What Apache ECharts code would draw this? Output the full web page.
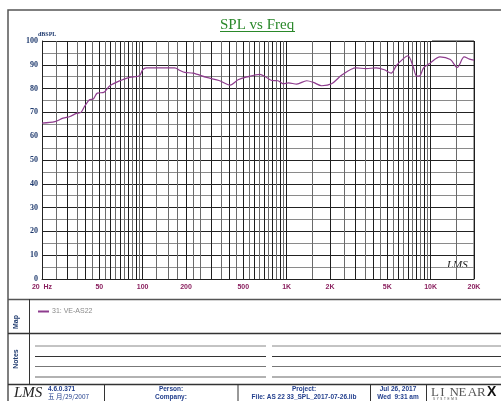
<!DOCTYPE html>
<html>
<head>
<meta charset="utf-8">
<script src="https://cdn.jsdelivr.net/npm/echarts@6/dist/echarts.min.js"></script>
<style>
html,body{margin:0;padding:0;background:#fff;}
#c{width:501px;height:401px;}
</style>
</head>
<body>
<div id="c"></div>
<script>
// ---- data ----
const freqs = [20, 24.6, 28, 31.3, 34.7, 37.3, 39.5, 42.7, 45.4, 48.4, 53.7, 59.2, 69.4, 81, 95, 100, 106, 125, 167, 182, 196, 224, 278, 343, 405, 460, 530, 652, 708, 789, 870, 948, 1030, 1175, 1378, 1535, 1750, 2050, 2430, 3030, 3560, 4180, 4770, 5320, 5770, 6410, 6960, 7550, 8000, 8430, 8930, 9960, 11600, 13700, 15300, 17100, 18600, 20000];
const spl = [65.5, 66.1, 67.6, 68.3, 69.6, 70, 72.5, 75.3, 75.6, 78.1, 78.4, 81.2, 83.3, 84.7, 85.4, 87.9, 88.7, 88.7, 88.7, 87.6, 86.8, 86.5, 84.7, 83.3, 81.5, 83.7, 84.9, 86, 85.1, 83.4, 83.3, 82, 82.4, 81.9, 83.3, 82.6, 81.2, 82, 85.8, 88.7, 88.4, 88.7, 87.9, 86.5, 89.6, 92.4, 93.8, 89.3, 85.2, 85.4, 88.7, 90.8, 93.3, 92.2, 88.9, 93.3, 92.4, 92];
const seriesName = '31: VE-AS22';
const xTickLabels = [20, 50, 100, 200, 500, 1000, 2000, 5000, 10000, 20000];
const xLabelText = {20: '20  Hz', 50: '50', 100: '100', 200: '200', 500: '500', 1000: '1K', 2000: '2K', 5000: '5K', 10000: '10K', 20000: '20K'};
const xGridLines = [20,25,30,35,40,45,50,55,60,65,70,75,80,85,90,95,
  100,125,150,175,200,225,250,300,350,400,450,500,550,600,650,700,750,800,850,900,950,
  1000,1500,2000,2500,3000,3500,4000,4500,5000,5500,6000,6500,7000,7500,8000,8500,9000,9500,
  10000,15000,20000];
const yMin = 0, yMax = 100, yStep = 5;

const gridColors = xGridLines.map(function (f) {
  const m = f / Math.pow(10, Math.floor(Math.log10(f) + 1e-9));
  return Math.abs(m - Math.round(m)) < 1e-6 ? '#1e1e1e' : '#6a6a6a';
});

const chart = echarts.init(document.getElementById('c'), null, {renderer: 'canvas'});

const LBL = '#1f3a6e';
const XLBL = '#8a1f5e';
const FT = '#24408e';

const linearLetters = ['L', 'I', 'N', 'E', 'A', 'R'];
const linearGraphics = linearLetters.map(function (ch, i) {
  return {type: 'text', x: 431 + i * 9.2, y: 386, style: {text: ch, font: '13px "Liberation Serif"', fill: '#555'}};
});

const option = {
  backgroundColor: '#fff',
  animation: false,
  title: {
    text: 'SPL vs Freq',
    left: 220, top: 18, padding: 0,
    textStyle: {fontFamily: 'Liberation Serif', fontSize: 15, fontWeight: 'normal', color: '#2a882a'}
  },
  legend: {
    left: 33, top: 303,
    itemWidth: 11, itemHeight: 2, itemGap: 4,
    icon: 'rect',
    data: [seriesName],
    textStyle: {fontFamily: 'Liberation Sans', fontSize: 7, color: '#8a8a8a', padding: [0,0,0,-2]}
  },
  grid: {left: 42, right: 27, top: 41, bottom: 122, containLabel: false},
  xAxis: {
    type: 'log', logBase: 10, min: 20, max: 20000,
    axisLine: {show: true, lineStyle: {color: '#222', width: 1}},
    axisTick: {show: false, customValues: xGridLines},
    axisLabel: {
      customValues: xTickLabels,
      formatter: function (v) { return xLabelText[Math.round(v)] || ''; },
      fontFamily: 'Liberation Sans', fontSize: 7, fontWeight: 'bold', color: XLBL, margin: 5
    },
    splitLine: {show: true, lineStyle: {color: gridColors, width: 1}}
  },
  yAxis: {
    type: 'value', min: yMin, max: yMax, interval: yStep,
    name: 'dBSPL', nameLocation: 'end', nameGap: 2,
    nameTextStyle: {fontFamily: 'Liberation Serif', fontSize: 6, fontWeight: 'bold', color: LBL, align: 'left', padding: [0,0,0,-4]},
    axisLine: {show: true, lineStyle: {color: '#222'}},
    axisTick: {show: false},
    axisLabel: {
      formatter: function (v) { return v % 10 === 0 ? String(v) : ''; },
      fontFamily: 'Liberation Serif', fontSize: 8, fontWeight: 'bold', color: LBL, margin: 4
    },
    splitLine: {show: true, lineStyle: {color: ['#222', '#8a8a8a'], width: 1}}
  },
  series: [{
    name: seriesName,
    type: 'line',
    data: freqs.map(function (f, i) { return [f, spl[i]]; }),
    smooth: 0.3,
    showSymbol: false,
    lineStyle: {color: '#8e3c8e', width: 1.2},
    itemStyle: {color: '#8e3c8e'}
  }],
  graphic: [
    // frame
    {type: 'rect', shape: {x: 8, y: 10, width: 520, height: 420}, style: {fill: 'none', stroke: '#555', lineWidth: 1.5}, silent: true},
    {type: 'line', shape: {x1: 432, y1: 41, x2: 474, y2: 41}, style: {stroke: '#222', lineWidth: 1}},
    {type: 'line', shape: {x1: 474, y1: 41, x2: 474, y2: 279}, style: {stroke: '#888', lineWidth: 1.5}},
    // title underline
    {type: 'line', shape: {x1: 220, y1: 31.5, x2: 295, y2: 31.5}, style: {stroke: '#2a882a', lineWidth: 1}},
    // panel lines
    {type: 'line', shape: {x1: 8, y1: 299.5, x2: 501, y2: 299.5}, style: {stroke: '#555', lineWidth: 1.5}},
    {type: 'line', shape: {x1: 8, y1: 333.5, x2: 501, y2: 333.5}, style: {stroke: '#333', lineWidth: 1.5}},
    {type: 'line', shape: {x1: 8, y1: 384.5, x2: 501, y2: 384.5}, style: {stroke: '#333', lineWidth: 1.5}},
    {type: 'line', shape: {x1: 29.5, y1: 299, x2: 29.5, y2: 384}, style: {stroke: '#333', lineWidth: 1}},
    {type: 'text', x: 16, y: 322, rotation: Math.PI / 2, style: {text: 'Map', font: 'bold 7px "Liberation Sans"', fill: LBL, align: 'center', verticalAlign: 'middle'}},
    {type: 'text', x: 16, y: 359, rotation: Math.PI / 2, style: {text: 'Notes', font: 'bold 7px "Liberation Sans"', fill: LBL, align: 'center', verticalAlign: 'middle'}},
    // notes lines
    {type: 'line', shape: {x1: 35, y1: 346, x2: 266, y2: 346}, style: {stroke: '#888', lineWidth: 1}},
    {type: 'line', shape: {x1: 272, y1: 346, x2: 501, y2: 346}, style: {stroke: '#888', lineWidth: 1}},
    {type: 'line', shape: {x1: 35, y1: 356.5, x2: 266, y2: 356.5}, style: {stroke: '#333', lineWidth: 1}},
    {type: 'line', shape: {x1: 272, y1: 356.5, x2: 501, y2: 356.5}, style: {stroke: '#333', lineWidth: 1}},
    {type: 'line', shape: {x1: 35, y1: 366.5, x2: 266, y2: 366.5}, style: {stroke: '#777', lineWidth: 1}},
    {type: 'line', shape: {x1: 272, y1: 366.5, x2: 501, y2: 366.5}, style: {stroke: '#777', lineWidth: 1}},
    {type: 'line', shape: {x1: 35, y1: 377, x2: 266, y2: 377}, style: {stroke: '#999', lineWidth: 1.5}},
    {type: 'line', shape: {x1: 272, y1: 377, x2: 501, y2: 377}, style: {stroke: '#999', lineWidth: 1.5}},
    // footer separators
    {type: 'line', shape: {x1: 104.5, y1: 384, x2: 104.5, y2: 401}, style: {stroke: '#333', lineWidth: 1}},
    {type: 'line', shape: {x1: 238, y1: 384, x2: 238, y2: 401}, style: {stroke: '#333', lineWidth: 1}},
    {type: 'line', shape: {x1: 370.5, y1: 384, x2: 370.5, y2: 401}, style: {stroke: '#333', lineWidth: 1}},
    {type: 'line', shape: {x1: 426.5, y1: 384, x2: 426.5, y2: 401}, style: {stroke: '#333', lineWidth: 1}},
    // LMS logos
    {type: 'text', x: 447, y: 260, style: {text: 'LMS', font: 'italic 11px "Liberation Serif"', fill: '#222'}},
    {type: 'text', x: 14, y: 386, style: {text: 'LMS', font: 'italic 15px "Liberation Serif"', fill: '#222'}},
    // footer texts
    {type: 'text', x: 48, y: 386, style: {text: '4.6.0.371', font: 'bold 6.5px "Liberation Sans"', fill: FT}},
    {type: 'text', x: 48, y: 393.5, style: {text: '五 月/29/2007', font: '6.5px "Noto Sans CJK SC"', fill: FT}},
    {type: 'text', x: 171, y: 386, style: {text: 'Person:', font: 'bold 6.5px "Liberation Sans"', fill: FT, align: 'center'}},
    {type: 'text', x: 171, y: 394, style: {text: 'Company:', font: 'bold 6.5px "Liberation Sans"', fill: FT, align: 'center'}},
    {type: 'text', x: 304, y: 386, style: {text: 'Project:', font: 'bold 6.5px "Liberation Sans"', fill: FT, align: 'center'}},
    {type: 'text', x: 304, y: 394, style: {text: 'File: AS 22 33_SPL_2017-07-26.lib', font: 'bold 6.5px "Liberation Sans"', fill: FT, align: 'center'}},
    {type: 'text', x: 398, y: 386, style: {text: 'Jul 26, 2017', font: 'bold 6.5px "Liberation Sans"', fill: FT, align: 'center'}},
    {type: 'text', x: 398, y: 394, style: {text: 'Wed  9:31 am', font: 'bold 6.5px "Liberation Sans"', fill: FT, align: 'center'}},
    {type: 'text', x: 487, y: 385, style: {text: 'X', font: 'bold 14px "Liberation Sans"', fill: '#111'}},
    {type: 'text', x: 433, y: 398, style: {text: 'S  Y  S  T  E  M  S', font: '3px "Liberation Sans"', fill: '#444'}}
  ].concat(linearGraphics)
};
chart.setOption(option);
</script>
</body>
</html>
